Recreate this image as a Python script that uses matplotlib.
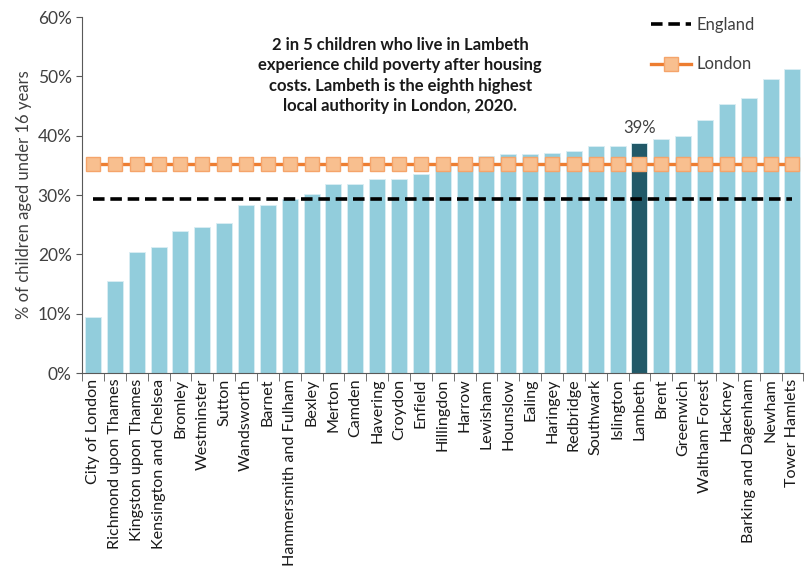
import matplotlib.pyplot as plt
import numpy as np
from matplotlib.ticker import PercentFormatter

boroughs = [
    "City of London", "Richmond upon Thames", "Kingston upon Thames",
    "Kensington and Chelsea", "Bromley", "Westminster", "Sutton",
    "Wandsworth", "Barnet", "Hammersmith and Fulham", "Bexley", "Merton",
    "Camden", "Havering", "Croydon", "Enfield", "Hillingdon", "Harrow",
    "Lewisham", "Hounslow", "Ealing", "Haringey", "Redbridge", "Southwark",
    "Islington", "Lambeth", "Brent", "Greenwich", "Waltham Forest",
    "Hackney", "Barking and Dagenham", "Newham", "Tower Hamlets",
]
poverty = [
    9.4, 15.5, 20.4, 21.2, 23.9, 24.6, 25.3, 28.3, 28.3, 29.3, 30.2, 31.9,
    31.9, 32.7, 32.7, 33.6, 34.9, 35.1, 36.6, 37.0, 37.0, 37.1, 37.5, 38.2,
    38.2, 38.7, 39.4, 40.0, 42.6, 45.3, 46.4, 49.5, 51.3,
]
england = 29.3
london = 35.2
highlight = "Lambeth"

plt.rcParams["font.family"] = ["Lato", "DejaVu Sans"]

fig = plt.figure(figsize=(8.05, 5.68), dpi=100)
ax = fig.add_axes([0.102, 0.343, 0.896, 0.627])

x = np.arange(len(boroughs))
colors = ["#215968" if b == highlight else "#92CDDC" for b in boroughs]
ax.bar(x, poverty, width=0.73, color=colors, edgecolor="#DAEEF3", linewidth=0.6, zorder=2)

ax.plot(x, [england] * len(x), color="black", linestyle=(0, (3.2, 1.6)),
        linewidth=2.6, label="England", zorder=3)
ax.plot(x, [london] * len(x), color="#ED7D31", linewidth=2.4, marker="s",
        markersize=10, markerfacecolor="#F8BF8F", markeredgecolor="#F5A46A",
        markeredgewidth=1, label="London", zorder=4)

i = boroughs.index(highlight)
ax.text(x[i], poverty[i] + 1.2, f"{poverty[i]:.0f}%", ha="center", va="bottom",
        fontsize=12, color="#404040")

ax.text(0.441, 0.945, "2 in 5 children who live in Lambeth\n"
        "experience child poverty after housing\n"
        "costs. Lambeth is the eighth highest\n"
        "local authority in London, 2020.",
        transform=ax.transAxes, ha="center", va="top", fontsize=12,
        fontweight="bold", color="#1a1a1a", linespacing=1.35)

ax.set_xlim(-0.5, len(x) - 0.5)
ax.set_ylim(0, 60)
ax.yaxis.set_major_formatter(PercentFormatter(decimals=0))
ax.set_yticks(range(0, 61, 10))
ax.tick_params(axis="y", labelsize=12.5, colors="#595959", labelcolor="#404040",
               direction="out", length=4)
ax.set_ylabel("% of children aged under 16 years", fontsize=12, color="#404040")

ax.set_xticks(x)
ax.set_xticklabels(boroughs, rotation=90, fontsize=11.6, color="#1a1a1a")
ax.tick_params(axis="x", length=0, pad=4)
ax.set_xticks(np.arange(-0.5, len(x), 1), minor=True)
ax.tick_params(axis="x", which="minor", length=6, color="#595959", direction="out")

for side in ["top", "right"]:
    ax.spines[side].set_visible(False)
ax.spines["left"].set_color("#595959")
ax.spines["bottom"].set_color("#595959")

ax.legend(loc="upper left", bbox_to_anchor=(0.789, 1.0), frameon=False,
          borderaxespad=0, borderpad=0,
          fontsize=12, handlelength=2.4, handletextpad=0.3, labelspacing=1.4,
          labelcolor="#404040")

fig.savefig("out.png", dpi=100)
